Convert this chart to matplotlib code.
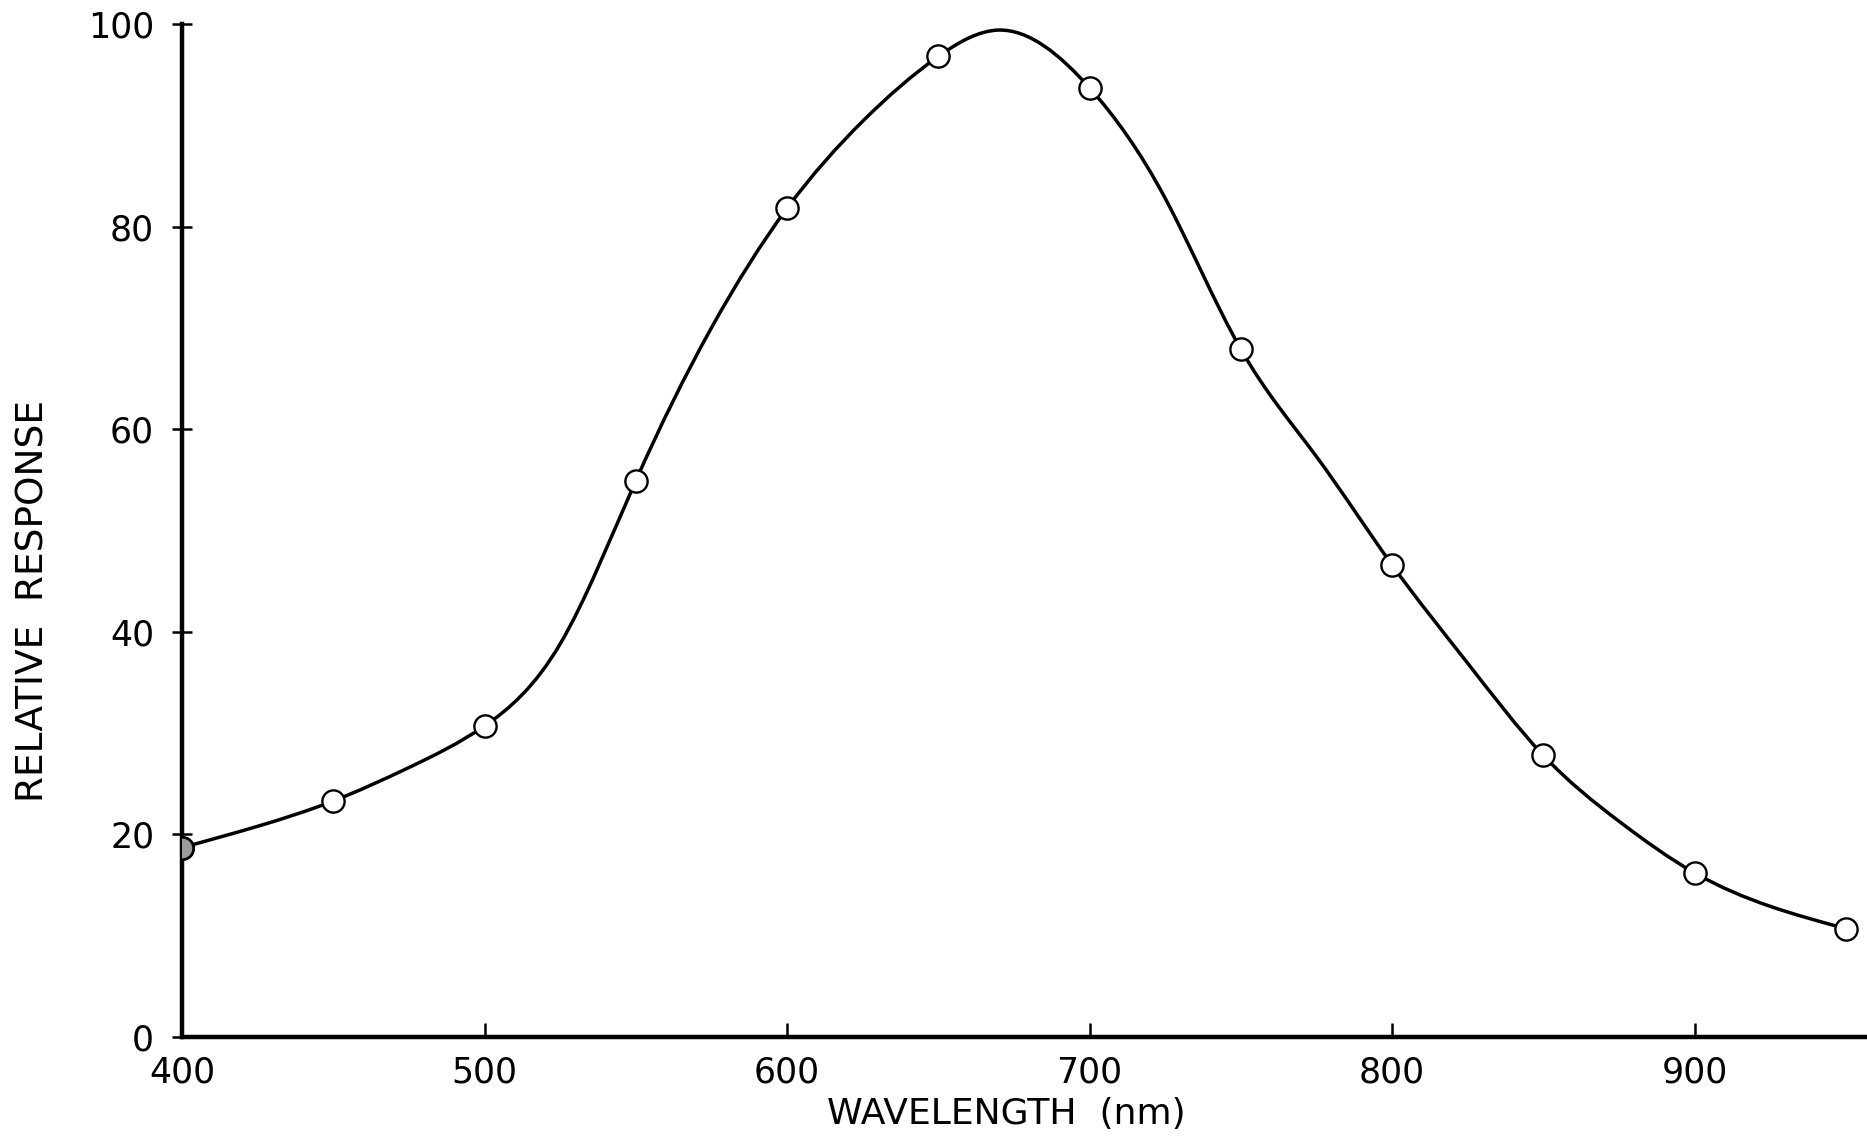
import numpy as np
import matplotlib
matplotlib.use('Agg')
import matplotlib.pyplot as plt
from matplotlib.path import Path
from matplotlib.patches import PathPatch

# measured points (open circles)
wavelength = [400, 450, 500, 550, 600, 650, 700, 750, 800, 850, 900, 950]
response = [18.7, 23.3, 30.7, 54.9, 81.8, 96.8, 93.7, 67.9, 46.6, 27.8, 16.2, 10.7]

# hand-drawn curve
curve_nm = [400, 425, 450, 475, 500, 525, 550, 575, 600, 625, 650, 670,
            700, 725, 750, 775, 800, 825, 850, 875, 900, 925, 950]
curve_val = [18.7, 20.8, 23.3, 26.6, 30.7, 38.8, 54.9, 70.0, 81.8, 90.4, 96.8, 99.4,
             93.7, 82.8, 67.9, 57.3, 46.6, 36.9, 27.8, 21.3, 16.2, 12.9, 10.7]

xticks = [400, 500, 600, 700, 800, 900]
yticks = [0, 20, 40, 60, 80, 100]

fig = plt.figure(figsize=(18.67, 11.38), dpi=100)
ax = fig.add_axes([182 / 1867, 101 / 1138, 1 - 182 / 1867, (1037 - 24) / 1138])

# smooth curve: natural cubic spline through the read points, drawn as bezier segments
x = np.array(curve_nm, dtype=float)
y = np.array(curve_val, dtype=float)
n = len(x)
h = np.diff(x)
A = np.zeros((n, n))
r = np.zeros(n)
A[0, 0] = A[-1, -1] = 1
for i in range(1, n - 1):
    A[i, i - 1] = h[i - 1]
    A[i, i] = 2 * (h[i - 1] + h[i])
    A[i, i + 1] = h[i]
    r[i] = 6 * ((y[i + 1] - y[i]) / h[i] - (y[i] - y[i - 1]) / h[i - 1])
M = np.linalg.solve(A, r)
d = np.zeros(n)
for i in range(n - 1):
    d[i] = (y[i + 1] - y[i]) / h[i] - h[i] * (2 * M[i] + M[i + 1]) / 6
d[-1] = (y[-1] - y[-2]) / h[-1] + h[-1] * (M[-2] + 2 * M[-1]) / 6

verts = [(x[0], y[0])]
codes = [Path.MOVETO]
for i in range(n - 1):
    s = h[i] / 3
    verts += [(x[i] + s, y[i] + d[i] * s),
              (x[i + 1] - s, y[i + 1] - d[i + 1] * s),
              (x[i + 1], y[i + 1])]
    codes += [Path.CURVE4] * 3
ax.add_patch(PathPatch(Path(verts, codes), facecolor='none', edgecolor='black',
                       lw=2.5, zorder=2))

ax.plot(wavelength, response, linestyle='none', marker='o', markersize=16,
        markerfacecolor='white', markeredgecolor='black', markeredgewidth=1.7, zorder=3)
ax.plot(wavelength[:1], response[:1], linestyle='none', marker='o', markersize=16,
        markerfacecolor='#9a9a9a', markeredgecolor='black', markeredgewidth=1.9, zorder=4)

ax.set_xlim(400, 957)
ax.set_ylim(0, 100)
ax.spines['top'].set_visible(False)
ax.spines['right'].set_visible(False)
ax.spines['left'].set_linewidth(3.2)
ax.spines['bottom'].set_linewidth(3.2)
ax.spines['left'].set_bounds(0, 100)

ax.set_xticks(xticks)
ax.set_yticks(yticks)
ax.set_xticklabels([str(t) for t in xticks])
ax.set_yticklabels([str(t) for t in yticks])
ax.tick_params(axis='x', direction='in', length=10, width=1.8, labelsize=25, pad=13)
ax.tick_params(axis='y', direction='inout', length=14, width=1.8, labelsize=25, pad=13)

fig.text(1006 / 1867, 24 / 1138, 'WAVELENGTH  (nm)', ha='center', va='center', fontsize=26)
fig.text(33 / 1867, 1 - 601 / 1138, 'RELATIVE  RESPONSE', ha='center', va='center',
         rotation=90, fontsize=27)

fig.savefig('out.png', dpi=100, facecolor='white')
